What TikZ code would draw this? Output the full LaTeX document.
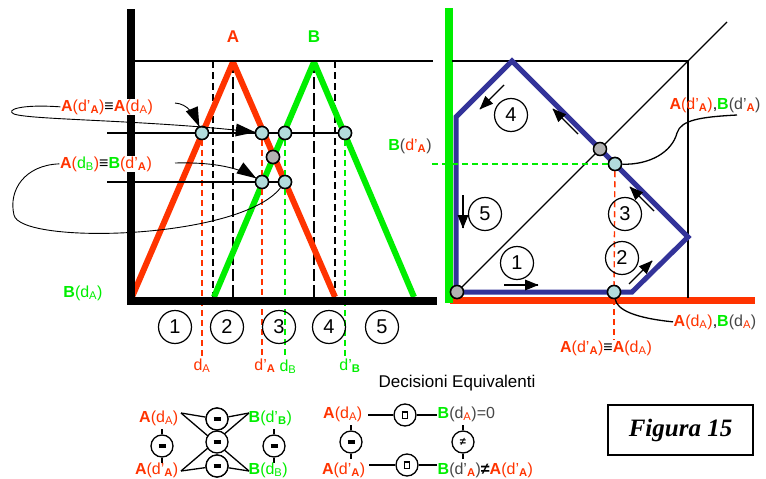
\documentclass[tikz,border=0pt]{standalone}
\usepackage{fontspec}
\setmainfont{Liberation Sans}
\newfontfamily\figfont{Liberation Serif}
\usetikzlibrary{decorations.markings}

\definecolor{cred}{RGB}{255,51,0}
\definecolor{cgreen}{RGB}{0,238,0}
\definecolor{cblue}{RGB}{51,51,153}
\definecolor{cdot}{RGB}{178,220,220}
\definecolor{cgrey}{RGB}{178,178,178}
\definecolor{ctext}{RGB}{70,70,70}

\newcommand{\SubA}{\textsubscript{A}}
\newcommand{\SubAb}{\textsubscript{\textbf{A}}}
\newcommand{\SubB}{\textsubscript{B}}
\newcommand{\SubBb}{\textsubscript{\textbf{B}}}
\newcommand{\AdA}{\textcolor{cred}{\textbf{A}(d\SubA)}}
\newcommand{\AdpA}{\textcolor{cred}{\textbf{A}(d’\SubAb)}}
\newcommand{\GB}{\textcolor{cgreen}{\textbf{B}}}
\newcommand{\Eqv}{\textbf{≡}}

\begin{document}
\begin{tikzpicture}[x=1pt,y=-1pt,
  lab/.style={inner sep=0.5pt, font=\fontsize{16}{18}\selectfont},
  wlab/.style={lab, fill=white},
  num/.style={circle, draw, line width=1.2pt, minimum size=33pt, inner sep=0pt, font=\fontsize{20}{22}\selectfont},
  pt/.style={circle, draw, line width=1.5pt, fill=cdot, minimum size=13pt, inner sep=0pt},
  gpt/.style={pt, fill=cgrey},
  axisline/.style={line width=8pt},
  redleg/.style={line width=6pt, cred},
  greenleg/.style={line width=6pt, cgreen},
  hair/.style={line width=1.3pt},
  fine/.style={line width=0.9pt},
  bdash/.style={line width=1.5pt, dash pattern=on 7pt off 4pt},
  bldash/.style={line width=1.5pt, dash pattern=on 12pt off 4pt},
  rdash/.style={line width=1.4pt, cred, dash pattern=on 6pt off 4pt},
  gdash/.style={line width=1.4pt, cgreen, dash pattern=on 6pt off 4pt},
  % filled triangular heads placed at the end of a path
  bigtip/.style={postaction={decorate}, decoration={markings,
      mark=at position 1 with {\fill (0.5pt,0pt) -- (-19pt,6.5pt) -- (-19pt,-6.5pt) -- cycle;}}},
  smalltip/.style={line width=1.4pt, postaction={decorate}, decoration={markings,
      mark=at position 1 with {\fill (0.5pt,0pt) -- (-13pt,5.5pt) -- (-13pt,-5.5pt) -- cycle;}}},
  decis/.style={circle, draw, line width=1.3pt, minimum size=22pt, inner sep=0pt, fill=white},
  stem/.style={line width=1.3pt},
]
\useasboundingbox (0,0) rectangle (766,479);

% ---------- left panel: two triangular functions ----------
\draw[bdash]  (213,61) -- (213,297);
\draw[bldash] (233,61) -- (233,297);
\draw[bldash] (314,61) -- (314,297);
\draw[bdash]  (335,61) -- (335,297);

\draw[redleg]   (132,297) -- (233,62);
\draw[redleg]   (233,62) -- (335,297);
\draw[greenleg] (214,297) -- (314,62);
\draw[greenleg] (314,62) -- (414,297);

\node[lab, anchor=base, text=cred]   (tA) at (233,42) {\fontsize{17}{19}\selectfont\textbf{A}};
\node[lab, anchor=base, text=cgreen] (tB) at (314,42) {\fontsize{17}{19}\selectfont\textbf{B}};

% intersection points (placed first so that lines can refer to them)
\node[pt]  (p1) at (202,133) {};
\node[pt]  (p2) at (262,133) {};
\node[pt]  (p3) at (285,133) {};
\node[pt]  (p4) at (345,133) {};
\node[pt]  (p5) at (262,182) {};
\node[pt]  (p6) at (285,182) {};
\node[gpt] (p7) at (273,157) {};

% abscissa labels
\node[lab, anchor=base, text=cred]   (ldA)  at (202,370) {d\SubA};
\node[lab, anchor=base, text=cred]   (ldpA) at (265,370) {d’\SubAb};
\node[lab, anchor=base, text=cgreen] (ldB)  at (288,371) {d\SubB};
\node[lab, anchor=base, text=cgreen] (ldpB) at (350,370) {d’\SubBb};

\draw[rdash] (p1) -- (p1 |- ldA.north);
\draw[rdash] (p2) -- (p5);
\draw[rdash] (p5) -- (p5 |- ldpA.north);
\draw[gdash] (p3) -- (p6);
\draw[gdash] (p6) -- (p6 |- ldB.north);
\draw[gdash] (p4) -- (p4 |- ldpB.north);

% axes
\draw[axisline] (131,9) -- (131,305);
\draw[axisline] (127,301) -- (437,301);
\draw[hair] (131,61) -- (433,61);

% level lines
\coordinate (h1a) at (107,133);
\coordinate (h1b) at (350,133);
\coordinate (h2a) at (107,182);
\draw[hair] (h1a) -- (h1b);
\draw[hair] (h2a) -- (p6);

% points drawn again above the lines
\foreach \x/\y in {202/133, 262/133, 285/133, 345/133, 262/182, 285/182}
  \node[pt] at (\x,\y) {};
\node[gpt] at (273,157) {};

% numbered intervals
\node[num] (n1) at (175,327) {1};
\node[num] (n2) at (227,327) {2};
\node[num] (n3) at (279,327) {3};
\node[num] (n4) at (329,327) {4};
\node[num] (n5) at (382,327) {5};

% equivalence labels with their pointers
\node[wlab, anchor=base] (l1) at (107,111) {\AdpA\Eqv\AdA};
\node[wlab, anchor=base] (l2) at (106,168) {\textcolor{cred}{\textbf{A}(}\textcolor{cgreen}{d\SubB}\textcolor{cred}{)}\Eqv\GB\textcolor{cred}{(d’\SubAb)}};
\node[lab, anchor=base, text=cgreen] (l3) at (83,297) {\textbf{B}(d\SubA)};

\coordinate (l1r) at (175,103);
\coordinate (l2r) at (175,163);
\draw[fine, bigtip] (l1r) .. controls (188,104) and (194,114) .. (p1);
\draw[fine, bigtip] (l1.west) .. controls (20,104) and (5,110) .. (14,114) .. controls (30,120) and (150,120) .. (p2);
\draw[fine, bigtip] (l2r) .. controls (215,162) and (240,168) .. (p5);
\draw[fine, bigtip] (l2.west) .. controls (25,165) and (8,190) .. (14,215) .. controls (20,245) and (240,240) .. (p6);

% ---------- right panel: decision plane ----------
\draw[line width=7pt, cred] (450,300) -- (755,300);
\draw[line width=8pt, cgreen] (449,8) -- (449,303);
\draw[hair] (452,61) -- (688,61) -- (688,298);

\node[gpt] (q0) at (457,292) {};
\coordinate (dg) at (727,22);
\draw[hair] (q0) -- (dg);

\draw[line width=5pt, cblue, line join=miter] (456,292) -- (456,117) -- (512,61) -- (688,237) -- (632,292) -- cycle;

\node[gpt] at (457,292) {};
\node[gpt] (q1) at (600,149) {};
\node[pt]  (q2) at (615,164) {};
\node[pt]  (q3) at (614,292) {};

\node[lab, anchor=base] (r1) at (410,150) {\GB\textcolor{ctext}{(}\textcolor{cred}{d’\SubAb}\textcolor{ctext}{)}};
\node[lab, anchor=base] (r2) at (715,109) {\AdpA,\GB\textcolor{ctext}{(d’}\textcolor{cred}{\SubAb}\textcolor{ctext}{)}};
\node[lab, anchor=base] (r3) at (715,326) {\AdA,\GB\textcolor{ctext}{(d}\textcolor{cred}{\SubA}\textcolor{ctext}{)}};
\node[lab, anchor=base] (r4) at (606,352) {\AdpA\Eqv\AdA};

\draw[gdash] (r1.east |- q2) -- (q2);
\draw[rdash] (q2) -- (q3);
\draw[rdash] (q3) -- (q3 |- r4.north);
\node[pt] at (615,164) {};
\node[pt] at (614,292) {};

\coordinate (c2e) at (737,115);
\draw[hair] (q2) .. controls (650,165) and (672,152) .. (677,133) .. controls (681,120) and (700,117) .. (c2e);
\draw[hair] (q3) .. controls (617,310) and (635,318) .. (r3.west);

\node[num] (m1) at (517,263) {1};
\node[num] (m2) at (622,258) {2};
\node[num] (m3) at (625,214) {3};
\node[num] (m4) at (511,115) {4};
\node[num] (m5) at (485,214) {5};

% direction of travel along the boundary
\coordinate (a1s) at (504,285); \coordinate (a1e) at (538,285);
\coordinate (a2s) at (629,284); \coordinate (a2e) at (652,261);
\coordinate (a3s) at (654,211); \coordinate (a3e) at (630,187);
\coordinate (a4s) at (578,134); \coordinate (a4e) at (553,109);
\coordinate (a5s) at (504,85);  \coordinate (a5e) at (480,109);
\coordinate (a6s) at (463,195); \coordinate (a6e) at (463,228);
\foreach \k in {1,...,6} \draw[smalltip] (a\k s) -- (a\k e);

% ---------- equivalent decisions ----------
\node[lab, anchor=base, font=\fontsize{17}{19}\selectfont] (de) at (457,387) {Decisioni Equivalenti};

\coordinate (x1) at (181,413);
\coordinate (x2) at (249,413);
\coordinate (x3) at (181,471);
\coordinate (x4) at (249,471);
\node[decis] (e1) at (217,419) {\rule{7pt}{4.5pt}};
\node[decis] (e3) at (217,466) {\rule{7pt}{4.5pt}};
\draw[hair] (x1) -- (e1) -- (x2);
\draw[hair] (x3) -- (e3) -- (x4);
\draw[hair] (x1) -- (x4);
\draw[hair] (x2) -- (x3);
\node[decis] at (217,419) {\rule{7pt}{4.5pt}};
\node[decis] at (217,466) {\rule{7pt}{4.5pt}};
\node[decis] (e2) at (217,442) {\rule{7pt}{4.5pt}};
\node[decis] (s1) at (162,446) {\rule{7pt}{4.5pt}};
\node[decis] (s2) at (274,446) {\rule{7pt}{4.5pt}};
\draw[stem] (s1.north) -- ++(0,-5);
\draw[stem] (s1.south) -- ++(0,5);
\draw[stem] (s2.north) -- ++(0,-5);
\draw[stem] (s2.south) -- ++(0,5);

\node[lab, anchor=base east] (b1) at (179,422) {\AdA};
\node[lab, anchor=base west, text=cgreen] (b2) at (248,422) {\textbf{B}(d’\SubBb)};
\node[lab, anchor=base east] (b3) at (179,474) {\AdpA};
\node[lab, anchor=base west, text=cgreen] (b4) at (248,474) {\textbf{B}(d\SubB)};

\node[lab, anchor=base east] (c1) at (363,418) {\AdA};
\node[lab, anchor=base west] (c2) at (437,418) {\GB\textcolor{ctext}{(d}\textcolor{cred}{\SubA}\textcolor{ctext}{)=0}};
\node[lab, anchor=base east] (c3) at (366,474) {\AdpA};
\node[lab, anchor=base west] (c4) at (437,474) {\GB\textcolor{ctext}{(d’}\textcolor{cred}{\SubAb}\textcolor{ctext}{)}\textbf{≠}\AdpA};

\coordinate (y1) at (368,415);
\coordinate (y2) at (437,415);
\coordinate (y3) at (369,465);
\coordinate (y4) at (437,465);
\node[decis] (k1) at (405,415) {\setlength\fboxsep{0pt}\setlength\fboxrule{1.2pt}\fbox{\rule{0pt}{5pt}\rule{4.5pt}{0pt}}};
\node[decis] (k2) at (407,465) {\setlength\fboxsep{0pt}\setlength\fboxrule{1.2pt}\fbox{\rule{0pt}{5pt}\rule{4.5pt}{0pt}}};
\draw[hair] (y1) -- (k1) -- (y2);
\draw[hair] (y3) -- (k2) -- (y4);
\node[decis] (k3) at (351,442) {\rule{7pt}{4.5pt}};
\node[decis] (k4) at (463,442) {\fontsize{11}{11}\selectfont\textbf{≠}};
\draw[stem] (k3.north) -- ++(0,-5);
\draw[stem] (k3.south) -- ++(0,5);
\draw[stem] (k4.north) -- ++(0,-5);
\draw[stem] (k4.south) -- ++(0,5);

% ---------- caption box ----------
\node[draw, line width=1.3pt, minimum width=145pt, minimum height=50pt, inner sep=0pt] (fig) at (680.5,430)
  {\figfont\fontsize{25}{28}\selectfont\bfseries\itshape Figura 15};
\end{tikzpicture}
\end{document}
